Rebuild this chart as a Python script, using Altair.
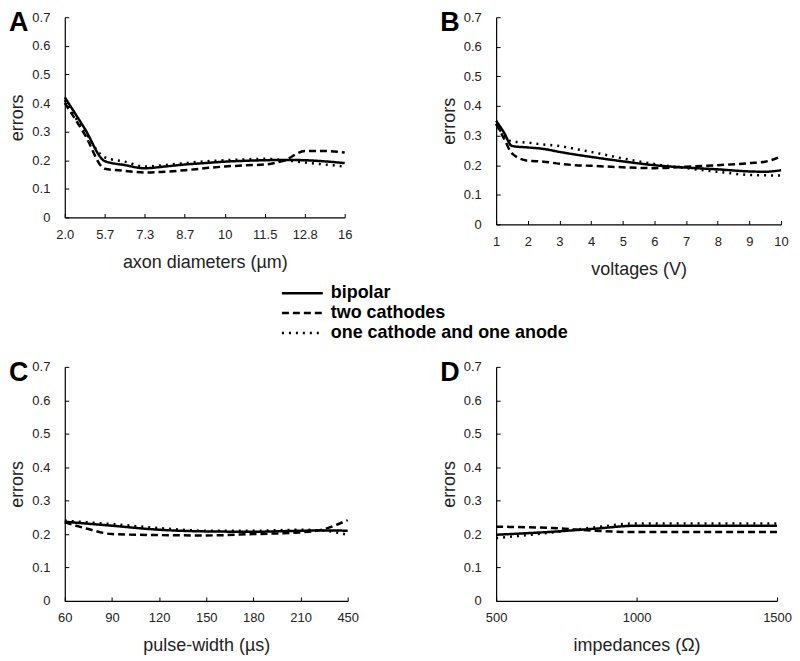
import altair as alt
import pandas as pd

FONT = "Liberation Sans"
series = ["bipolar", "two cathodes", "one cathode and one anode"]
dashes = [[1, 0], [7, 4], [2, 5]]

# Panel A: axon diameters (evenly spaced ticks)
a_labels = ["2.0", "5.7", "7.3", "8.7", "10", "11.5", "12.8", "16"]
a_x = [0, 0.5, 1, 1.5, 2, 2.5, 3, 3.5, 4, 4.5, 5, 5.5, 6, 6.5, 7]
a_bipolar = [0.42, 0.31, 0.197, 0.183, 0.172, 0.178, 0.185, 0.19, 0.195, 0.198, 0.2, 0.201, 0.2, 0.196, 0.19]
a_two = [0.40, 0.29, 0.17, 0.163, 0.157, 0.16, 0.165, 0.172, 0.178, 0.182, 0.185, 0.2, 0.232, 0.232, 0.227]
a_one = [0.41, 0.30, 0.21, 0.195, 0.178, 0.183, 0.19, 0.196, 0.2, 0.203, 0.205, 0.2, 0.192, 0.185, 0.178]

# Panel B: voltages
b_x = [1, 1.25, 1.5, 2, 2.5, 3, 3.5, 4, 5, 6, 7, 8, 9, 9.5, 10]
b_bipolar = [0.35, 0.31, 0.265, 0.26, 0.255, 0.245, 0.236, 0.228, 0.213, 0.2, 0.192, 0.186, 0.179, 0.178, 0.183]
b_two = [0.34, 0.29, 0.24, 0.215, 0.212, 0.205, 0.2, 0.198, 0.193, 0.19, 0.195, 0.2, 0.207, 0.212, 0.23]
b_one = [0.34, 0.30, 0.28, 0.276, 0.27, 0.265, 0.255, 0.245, 0.223, 0.204, 0.19, 0.178, 0.167, 0.166, 0.165]

# Panel C: pulse-width
c_labels = ["60", "90", "120", "150", "180", "210", "450"]
c_x = [0, 0.5, 1, 2, 3, 4, 5, 5.5, 6]
c_bipolar = [0.237, 0.231, 0.225, 0.213, 0.208, 0.207, 0.21, 0.211, 0.21]
c_two = [0.235, 0.215, 0.2, 0.197, 0.196, 0.2, 0.205, 0.215, 0.242]
c_one = [0.24, 0.235, 0.23, 0.218, 0.21, 0.21, 0.213, 0.21, 0.198]

# Panel D: impedances
d_x = [500, 700, 850, 1000, 1500]
d_bipolar = [0.198, 0.207, 0.216, 0.225, 0.225]
d_two = [0.222, 0.218, 0.21, 0.206, 0.206]
d_one = [0.188, 0.205, 0.22, 0.232, 0.232]

y_ticks = [0, 0.1, 0.2, 0.3, 0.4, 0.5, 0.6, 0.7]


def make_df(xs, vals):
    rows = []
    for s, v in zip(series, vals):
        for x, y in zip(xs, v):
            rows.append({"x": x, "y": y, "series": s})
    return pd.DataFrame(rows)


dash_scale = alt.Scale(domain=series, range=dashes)
no_frame = alt.ViewConfig(stroke="transparent", strokeWidth=0)


def axis_common(**kw):
    base = dict(
        grid=True, gridDash=[4, 3000], gridColor="black", gridWidth=1, gridOpacity=1,
        ticks=False, domainColor="black", domainWidth=1.2,
        labelFont=FONT, labelFontSize=13, labelColor="#222", labelFlush=False,
        titleFont=FONT, titleFontSize=18, titleFontWeight="normal", titleColor="#222",
    )
    base.update(kw)
    return alt.Axis(**base)


def panel(df, letter, xtitle, xdomain, xvalues, width, height, labels=None):
    # inward tick marks: grid line dashed so only the 4px next to the axis shows
    xgrid_dash = [0, height - 4, 4, 3000]
    if labels is not None:
        arr = "[" + ",".join("'" + l + "'" for l in labels) + "]"
        xaxis = axis_common(title=xtitle, values=xvalues, labelExpr=arr + "[datum.value]",
                            labelPadding=11, titlePadding=12, gridDash=xgrid_dash)
    else:
        xaxis = axis_common(title=xtitle, values=xvalues, format="d", labelPadding=11,
                            titlePadding=12, gridDash=xgrid_dash)
    yaxis = axis_common(title="errors", values=y_ticks, format=".1~f", labelPadding=15, titlePadding=5)
    lines = alt.Chart(df).mark_line(color="black", strokeWidth=2.5, interpolate="monotone").encode(
        x=alt.X("x:Q", scale=alt.Scale(domain=xdomain, nice=False, zero=False), axis=xaxis),
        y=alt.Y("y:Q", scale=alt.Scale(domain=[0, 0.7], nice=False), axis=yaxis),
        strokeDash=alt.StrokeDash("series:N", scale=dash_scale, legend=None),
    )
    tag = alt.Chart(pd.DataFrame({"t": [letter]})).mark_text(
        align="left", baseline="alphabetic", font=FONT, fontSize=27, fontWeight="bold", color="black"
    ).encode(text="t:N", x=alt.value(-56), y=alt.value(14))
    return alt.layer(lines, tag).properties(width=width, height=height, view=no_frame)


A = panel(make_df(a_x, [a_bipolar, a_two, a_one]), "A", "axon diameters (\u00b5m)", [0, 7], list(range(8)), 281, 201, a_labels)
B = panel(make_df(b_x, [b_bipolar, b_two, b_one]), "B", "voltages (V)", [1, 10], list(range(1, 11)), 286, 208)
C = panel(make_df(c_x, [c_bipolar, c_two, c_one]), "C", "pulse-width (\u00b5s)", [0, 6], list(range(7)), 284, 235, c_labels)
D = panel(make_df(d_x, [d_bipolar, d_two, d_one]), "D", "impedances (\u03a9)", [500, 1500], [500, 1000, 1500], 282, 235)

leg_df = pd.DataFrame({"series": series, "x0": [0, 0, 0], "x1": [1, 1, 1]})
leg_y = alt.Y("series:N", scale=alt.Scale(type="point", domain=series, range=[59, 99], padding=0), axis=None)
leg_x_scale = alt.Scale(domain=[0, 1], range=[218, 259])
leg_lines = alt.Chart(leg_df).mark_rule(color="black", strokeWidth=2.5).encode(
    x=alt.X("x0:Q", scale=leg_x_scale, axis=None), x2="x1:Q", y=leg_y,
    strokeDash=alt.StrokeDash("series:N", scale=dash_scale, legend=None),
)
leg_text = alt.Chart(leg_df).mark_text(align="left", baseline="middle", dx=8, font=FONT,
                                       fontSize=18, fontWeight="bold", color="black").encode(
    x=alt.X("x1:Q", scale=leg_x_scale, axis=None), y=leg_y, text="series:N",
)
legend = alt.layer(leg_lines, leg_text).properties(width=281, height=123, view=no_frame)

spacer = alt.Chart(leg_df).mark_point(opacity=0).encode(
    x=alt.X("x0:Q", axis=None), y=alt.Y("x1:Q", axis=None)
).properties(width=10, height=123, view=no_frame)

chart = alt.concat(A, B, legend, spacer, C, D, columns=2, bounds="flush",
                   spacing={"row": 10, "column": 149}).properties(
    padding=0
).configure_view(stroke="transparent", strokeWidth=0).configure(background="white")

chart.save("out.html", embed_options={"renderer": "svg", "actions": False})
